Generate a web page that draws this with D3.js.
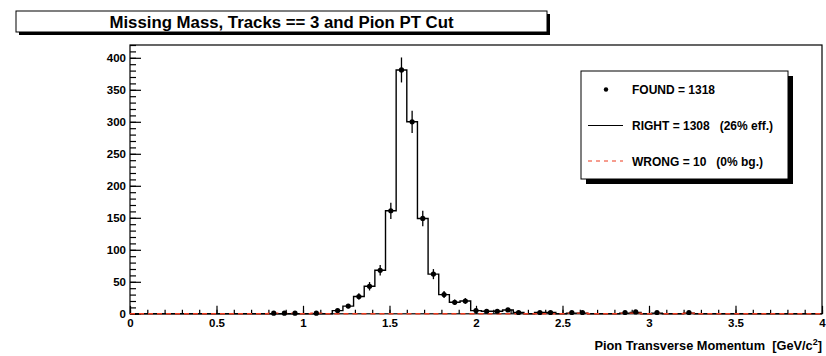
<!DOCTYPE html>
<html>
<head>
<meta charset="utf-8">
<script src="https://cdn.jsdelivr.net/npm/d3@7"></script>
<style>
  html, body { margin: 0; padding: 0; background: #fff; }
  svg { display: block; font-family: "Liberation Sans", Arial, Helvetica, sans-serif; font-weight: bold; }
</style>
</head>
<body>
<svg id="chart" width="826" height="356"></svg>
<script>
// Histogram binning: 65 equal bins over [0, 4] GeV/c^2
const xRange = [0, 4];
const nBins = 65;

// Entries per bin: all found candidates, correctly matched, wrongly matched
const foundCounts = [
  0, 0, 0, 0, 0, 0, 0, 0, 0, 0, 0, 0, 0, 1, 1, 1,
  0, 1, 0, 5, 12, 27, 43, 68, 161, 381, 300, 149, 62, 30, 18, 20,
  5, 4, 4, 6, 2, 0, 2, 2, 0, 2, 2, 0, 0, 0, 2, 3,
  0, 2, 0, 0, 2, 0, 0, 0, 0, 0, 0, 0, 0, 0, 0, 0, 0
];
const rightCounts = [
  0, 0, 0, 0, 0, 0, 0, 0, 0, 0, 0, 0, 0, 0, 0, 0,
  0, 0, 0, 5, 12, 27, 43, 68, 161, 381, 300, 149, 62, 30, 18, 20,
  5, 4, 4, 6, 2, 0, 2, 2, 0, 1, 1, 0, 0, 0, 1, 2,
  0, 1, 0, 0, 1, 0, 0, 0, 0, 0, 0, 0, 0, 0, 0, 0, 0
];
const wrongCounts = [
  0, 0, 0, 0, 0, 0, 0, 0, 0, 0, 0, 0, 0, 1, 1, 1,
  0, 1, 0, 0, 0, 0, 0, 0, 0, 0, 0, 0, 0, 0, 0, 0,
  0, 0, 0, 0, 0, 0, 0, 0, 0, 1, 1, 0, 0, 0, 1, 1,
  0, 1, 0, 0, 1, 0, 0, 0, 0, 0, 0, 0, 0, 0, 0, 0, 0
];

// Axis ticks and texts
const xMajorTicks = [0, 0.5, 1, 1.5, 2, 2.5, 3, 3.5, 4];
const yMajorTicks = [0, 50, 100, 150, 200, 250, 300, 350, 400];
const yMax = 420;
const titleText = "Missing Mass, Tracks == 3 and Pion PT Cut";
const xAxisTitle = "Pion Transverse Momentum  [GeV/c";
const legendLabels = ["FOUND = 1318", "RIGHT = 1308   (26% eff.)", "WRONG = 10   (0% bg.)"];

const svg = d3.select("#chart");
const frame = { left: 130, right: 822, top: 45, bottom: 313.8 };
const redDash = "#ee3b1f";
const boldFont = "Liberation Sans, Arial, sans-serif";

const x = d3.scaleLinear().domain(xRange).range([frame.left, frame.right]);
const y = d3.scaleLinear().domain([0, yMax]).range([frame.bottom, frame.top]);

const binWidth = (xRange[1] - xRange[0]) / nBins;
const edge = i => xRange[0] + i * binWidth;
const center = i => xRange[0] + (i + 0.5) * binWidth;

// Plot frame
svg.append("rect")
  .attr("x", frame.left).attr("y", frame.top)
  .attr("width", frame.right - frame.left).attr("height", frame.bottom - frame.top)
  .attr("fill", "#fff").attr("stroke", "#000").attr("stroke-width", 1.2);

// X axis: major and minor ticks pointing into the frame
const xMinor = d3.range(0, 41).map(i => i / 10);
svg.append("g")
  .attr("transform", `translate(0,${frame.bottom})`)
  .call(d3.axisBottom(x).tickValues(xMinor).tickSize(-4).tickSizeOuter(0).tickFormat(""))
  .call(g => g.select(".domain").remove())
  .call(g => g.selectAll("line").attr("stroke-width", 1.2));
svg.append("g")
  .attr("transform", `translate(0,${frame.bottom})`)
  .call(d3.axisBottom(x).tickValues(xMajorTicks).tickSize(-8).tickSizeOuter(0).tickPadding(5)
    .tickFormat(d => d3.format("~g")(d)))
  .call(g => g.select(".domain").remove())
  .call(g => g.selectAll("line").attr("stroke-width", 1.2))
  .call(g => g.selectAll("text").attr("font-size", 11.5).attr("font-weight", "bold")
    .attr("font-family", boldFont).attr("fill", "#000"));

// Y axis: major every 50, minor every 10
const yMinor = d3.range(0, yMax + 1, 10);
svg.append("g")
  .attr("transform", `translate(${frame.left},0)`)
  .call(d3.axisLeft(y).tickValues(yMinor).tickSize(-6).tickSizeOuter(0).tickFormat(""))
  .call(g => g.select(".domain").remove())
  .call(g => g.selectAll("line").attr("stroke-width", 1.2));
svg.append("g")
  .attr("transform", `translate(${frame.left},0)`)
  .call(d3.axisLeft(y).tickValues(yMajorTicks).tickSize(-11).tickSizeOuter(0).tickPadding(4))
  .call(g => g.select(".domain").remove())
  .call(g => g.selectAll("line").attr("stroke-width", 1.2))
  .call(g => g.selectAll("text").attr("font-size", 11.5).attr("font-weight", "bold")
    .attr("font-family", boldFont).attr("fill", "#000"));

// Step outline of a histogram
function stepPath(counts) {
  const pts = counts.map((v, i) => [x(edge(i)), y(v)]);
  pts.push([x(edge(nBins)), y(counts[nBins - 1])]);
  return d3.line().curve(d3.curveStepAfter)(pts);
}

const plot = svg.append("g");

// Correct matches: solid black step histogram
plot.append("path")
  .attr("d", stepPath(rightCounts))
  .attr("fill", "none").attr("stroke", "#000").attr("stroke-width", 1.4);

// Wrong matches: red dashed step histogram
plot.append("path")
  .attr("d", stepPath(wrongCounts))
  .attr("fill", "none").attr("stroke", redDash).attr("stroke-width", 1.4)
  .attr("stroke-dasharray", "5,4");

// All found: points with sqrt(N) error bars
const found = foundCounts.map((v, i) => ({ c: center(i), v })).filter(d => d.v > 0);
plot.selectAll("line.err").data(found).join("line")
  .attr("class", "err")
  .attr("x1", d => x(d.c)).attr("x2", d => x(d.c))
  .attr("y1", d => y(d.v + Math.sqrt(d.v))).attr("y2", d => y(Math.max(0, d.v - Math.sqrt(d.v))))
  .attr("stroke", "#000").attr("stroke-width", 1.3);
plot.selectAll("circle.pt").data(found).join("circle")
  .attr("class", "pt")
  .attr("cx", d => x(d.c)).attr("cy", d => y(d.v)).attr("r", 2.6)
  .attr("fill", "#000");

// Title box with drop shadow
const tb = { x: 16, y: 11, w: 531, h: 21 };
svg.append("rect").attr("x", tb.x + 3).attr("y", tb.y + 3).attr("width", tb.w).attr("height", tb.h).attr("fill", "#000");
svg.append("rect").attr("x", tb.x).attr("y", tb.y).attr("width", tb.w).attr("height", tb.h)
  .attr("fill", "#fff").attr("stroke", "#000").attr("stroke-width", 1);
svg.append("text").attr("x", tb.x + tb.w / 2).attr("y", tb.y + 16.5)
  .attr("text-anchor", "middle").attr("font-size", 16.8).text(titleText);

// X axis title with superscript
const xt = svg.append("text").attr("x", 822).attr("y", 349.5).attr("text-anchor", "end")
  .attr("font-size", 12.8).attr("xml:space", "preserve").style("white-space", "pre");
xt.append("tspan").text(xAxisTitle);
xt.append("tspan").attr("dy", -5).attr("font-size", 9).text("2");
xt.append("tspan").attr("dy", 5).text("]");

// Legend box with drop shadow
const lb = { x: 581, y: 71, w: 207, h: 108 };
svg.append("rect").attr("x", lb.x + 5).attr("y", lb.y + 5).attr("width", lb.w).attr("height", lb.h).attr("fill", "#000");
svg.append("rect").attr("x", lb.x).attr("y", lb.y).attr("width", lb.w).attr("height", lb.h)
  .attr("fill", "#fff").attr("stroke", "#000").attr("stroke-width", 1);
const legend = svg.append("g");
const rowsY = [89.5, 125.5, 161];
legend.append("circle").attr("cx", 606).attr("cy", rowsY[0]).attr("r", 2.2).attr("fill", "#000");
legend.append("line").attr("x1", 588).attr("x2", 623).attr("y1", rowsY[1]).attr("y2", rowsY[1])
  .attr("stroke", "#000").attr("stroke-width", 1.2);
legend.append("line").attr("x1", 588).attr("x2", 623).attr("y1", rowsY[2]).attr("y2", rowsY[2])
  .attr("stroke", redDash).attr("stroke-width", 1.2).attr("stroke-dasharray", "4,4");
legend.selectAll("text").data(legendLabels).join("text")
  .attr("x", 632).attr("y", (d, i) => rowsY[i] + 4.5)
  .attr("font-size", 12).attr("xml:space", "preserve").style("white-space", "pre")
  .text(d => d);
</script>
</body>
</html>
